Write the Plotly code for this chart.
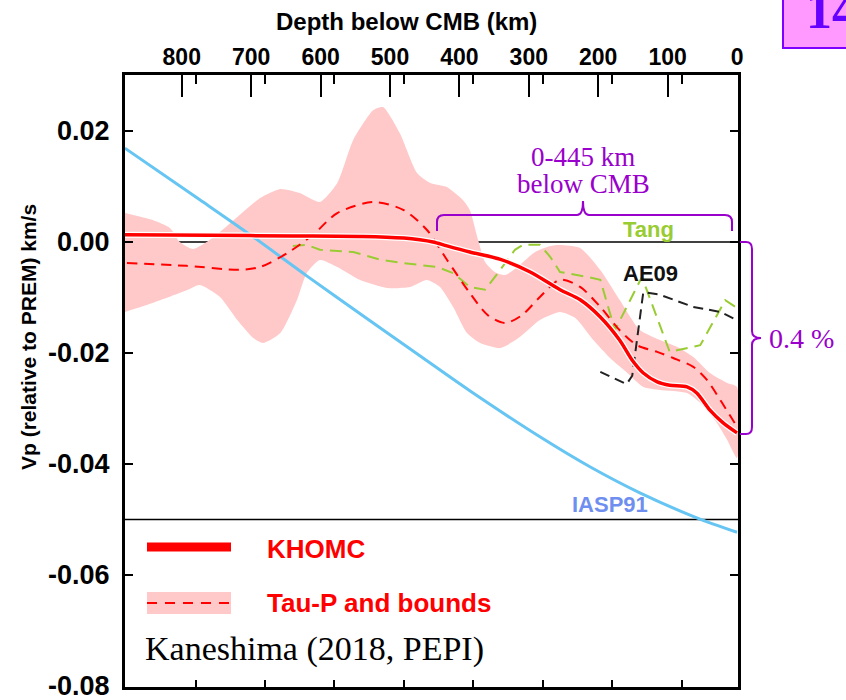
import plotly.graph_objects as go

# ---------------- data (depth below CMB in km, Vp anomaly vs PREM in km/s) ----------------
band_upper_depth = [882, 842, 817, 803, 784, 764, 745, 720, 687, 658, 630, 601, 576, 553, 524,
                    510, 486, 461, 442, 418, 395, 385, 373, 363, 349, 334, 313, 291, 269, 255,
                    226, 197, 169, 140, 111, 86, 63, 39, 14, 0]
band_upper_vp = [0.00523, 0.00396, 0.00252, 0.0, -0.00126, 0.0, 0.0018, 0.0045, 0.00793, 0.00955,
                 0.00883, 0.00721, 0.01063, 0.01838, 0.02378, 0.02432, 0.01964, 0.01243, 0.01063,
                 0.00991, 0.00757, 0.00577, 0.00036, -0.0036, -0.0054, -0.00595, -0.00414,
                 -0.0018, -0.00072, -0.00054, -0.00108, -0.00505, -0.01045, -0.01586, -0.01766,
                 -0.01892, -0.02072, -0.0236, -0.02541, -0.02613]

band_lower_depth = [882, 842, 792, 774, 745, 720, 697, 683, 658, 634, 620, 601, 576, 543, 504,
                    471, 447, 428, 409, 389, 370, 341, 313, 284, 255, 233, 207, 183, 158, 135,
                    111, 72, 53, 29, 14, 0]
band_lower_vp = [-0.01261, -0.01099, -0.00865, -0.00775, -0.00991, -0.01405, -0.0173, -0.0182,
                 -0.0164, -0.01045, -0.00559, -0.00324, -0.0045, -0.00685, -0.00829, -0.00811,
                 -0.00685, -0.00811, -0.01171, -0.0164, -0.0182, -0.0191, -0.01712, -0.01405,
                 -0.01261, -0.01369, -0.01766, -0.0209, -0.0236, -0.02613, -0.02667, -0.02721,
                 -0.029, -0.0326, -0.0357, -0.0389]

taup_depth = [879, 793, 716, 687, 648, 611, 576, 524, 481, 447, 418, 385, 359, 334, 310, 284,
              255, 226, 197, 169, 144, 115, 92, 63, 43, 24, 0]
taup_vp = [-0.0038, -0.0043, -0.0050, -0.0045, -0.0020, 0.0013, 0.0052, 0.0072, 0.0058, 0.0022,
           -0.0032, -0.0092, -0.0132, -0.0146, -0.0132, -0.0099, -0.0068, -0.0081, -0.0117,
           -0.0159, -0.0186, -0.0198, -0.0209, -0.0225, -0.0249, -0.0285, -0.0333]

khomc_depth = [882, 760, 640, 540, 480, 457, 438, 418, 385, 342, 298, 255, 226, 197, 169, 151,
               135, 115, 97, 72, 58, 39, 20, 0]
khomc_vp = [0.0013, 0.0012, 0.0011, 0.0010, 0.0007, 0.0004, 0.0000, -0.0007, -0.0018, -0.0031,
            -0.0054, -0.0086, -0.0104, -0.0135, -0.0177, -0.0213, -0.0236, -0.0252, -0.0258,
            -0.0261, -0.0272, -0.0303, -0.0326, -0.0344]

tang_depth = [640, 620, 601, 553, 514, 481, 432, 409, 385, 363, 341, 320, 308, 284, 269, 255,
              216, 197, 176, 137, 97, 53, 17, 0]
tang_vp = [-0.0007, -0.0005, -0.0014, -0.0018, -0.0032, -0.0038, -0.0045, -0.0056, -0.0081,
           -0.0086, -0.0050, -0.0014, -0.0005, -0.0005, -0.0027, -0.0054, -0.0063, -0.0068,
           -0.0159, -0.0063, -0.0198, -0.0186, -0.0105, -0.0119]

ae09_depth = [197, 159, 151, 135, 111, 63, 24, 0]
ae09_vp = [-0.0234, -0.0256, -0.0241, -0.0090, -0.0095, -0.0117, -0.0126, -0.0141]

iasp_depth = [882, 774, 697, 620, 540, 457, 385, 284, 212, 140, 58, 0]
iasp_vp = [0.0169, 0.0076, 0.0009, -0.0061, -0.0132, -0.0205, -0.0268, -0.0351, -0.0405,
           -0.0452, -0.0497, -0.0523]

depth_ticks = [800, 700, 600, 500, 400, 300, 200, 100, 0]
depth_minor = [780, 680, 580, 480, 380, 280, 180, 80]
vp_ticks = [0.02, 0.0, -0.02, -0.04, -0.06, -0.08]
vp_ticklabels = ["0.02", "0.00", "-0.02", "-0.04", "-0.06", "-0.08"]

X_RANGE = [881.8, -1.4]
Y_RANGE = [-0.08018, 0.03009]

# ---------------- page geometry helpers (pixels -> paper) ----------------
W, H = 846, 700
L, R, T, B = 125, 738, 75, 687


def px(x):
    return (x - L) / (R - L)


def py(y):
    return (B - y) / (B - T)


SANS = "Liberation Sans"
SERIF = "Liberation Serif"
PURPLE = "#9900cc"
RED = "#ff0000"
PINK = "#ffc9c9"
GREEN = "#99cc33"
BLUE = "#66c5f2"

fig = go.Figure()

# uncertainty band of the Tau-P model
fig.add_trace(go.Scatter(
    x=band_upper_depth + band_lower_depth[::-1],
    y=band_upper_vp + band_lower_vp[::-1],
    fill="toself", fillcolor=PINK, mode="lines",
    line=dict(width=0, color=PINK, shape="spline", smoothing=0.6),
    hoverinfo="skip", showlegend=False))

fig.add_trace(go.Scatter(x=iasp_depth, y=iasp_vp, mode="lines",
                         line=dict(color=BLUE, width=3, shape="spline", smoothing=0.8),
                         showlegend=False))

fig.add_trace(go.Scatter(x=tang_depth, y=tang_vp, mode="lines",
                         line=dict(color=GREEN, width=2, dash="12px,7px"),
                         showlegend=False))

fig.add_trace(go.Scatter(x=ae09_depth, y=ae09_vp, mode="lines",
                         line=dict(color="#222222", width=2, dash="10px,6px"),
                         showlegend=False))

fig.add_trace(go.Scatter(x=taup_depth, y=taup_vp, mode="lines",
                         line=dict(color=RED, width=2, dash="10px,7px", shape="spline", smoothing=0.8),
                         showlegend=False))

fig.add_trace(go.Scatter(x=khomc_depth, y=khomc_vp, mode="lines",
                         line=dict(color="white", width=6, shape="spline", smoothing=0.8),
                         hoverinfo="skip", showlegend=False))
fig.add_trace(go.Scatter(x=khomc_depth, y=khomc_vp, mode="lines",
                         line=dict(color=RED, width=3.5, shape="spline", smoothing=0.8),
                         showlegend=False))

shapes = []
# PREM reference (zero) line and the legend separator line
shapes.append(dict(type="line", xref="paper", yref="y", x0=0, x1=1, y0=0, y1=0,
                   line=dict(color="black", width=1.5), layer="below"))
shapes.append(dict(type="line", xref="paper", yref="y", x0=0, x1=1, y0=-0.05, y1=-0.05,
                   line=dict(color="black", width=1.5), layer="below"))

# legend samples
shapes.append(dict(type="line", xref="paper", yref="paper", x0=px(147), x1=px(231),
                   y0=py(547), y1=py(547), line=dict(color=RED, width=9)))
shapes.append(dict(type="rect", xref="paper", yref="paper", x0=px(147), x1=px(231),
                   y0=py(614), y1=py(592), fillcolor=PINK, line=dict(width=0)))
shapes.append(dict(type="line", xref="paper", yref="paper", x0=px(147), x1=px(231),
                   y0=py(603), y1=py(603), line=dict(color=RED, width=2, dash="10px,8px")))


def path(points):
    out = []
    for cmd, *xy in points:
        coords = " ".join(f"{px(xy[i]):.5f},{py(xy[i + 1]):.5f}" for i in range(0, len(xy), 2))
        out.append(f"{cmd} {coords}")
    return " ".join(out)


# brace over the lowermost 445 km
top_brace = path([("M", 437, 231), ("L", 437, 222), ("Q", 437, 215, 444, 215),
                  ("L", 577, 215), ("Q", 583, 215, 583, 201), ("Q", 583, 215, 589, 215),
                  ("L", 725, 215), ("Q", 732, 215, 732, 222), ("L", 732, 231)])
shapes.append(dict(type="path", xref="paper", yref="paper", path=top_brace,
                   line=dict(color=PURPLE, width=2)))

# brace on the right spanning the velocity drop
side_brace = path([("M", 740, 242), ("L", 746, 242), ("Q", 752, 242, 752, 249),
                   ("L", 752, 331), ("Q", 752, 338, 761, 338), ("Q", 752, 338, 752, 345),
                   ("L", 752, 427), ("Q", 752, 434, 746, 434), ("L", 740, 434)])
shapes.append(dict(type="path", xref="paper", yref="paper", path=side_brace,
                   line=dict(color=PURPLE, width=2)))

# slide number box
shapes.append(dict(type="rect", xref="paper", yref="paper", x0=px(783), x1=px(870),
                   y0=py(48), y1=py(-20), fillcolor="#ff99ff", line=dict(color="#7f00ff", width=2)))

ann = []


def text(x, y, s, size, color="black", family=SANS, bold=True, xanchor="center", angle=0):
    ann.append(dict(x=px(x), y=py(y), xref="paper", yref="paper", text=s, showarrow=False,
                    xanchor=xanchor, yanchor="middle", textangle=angle,
                    font=dict(family=family, size=size, color=color,
                              weight="bold" if bold else "normal")))


text(406, 21, "Depth below CMB (km)", 24)
text(28, 337, "Vp (relative to PREM) km/s", 21, angle=-90)
text(583, 157, "0-445 km", 27, PURPLE, SERIF, bold=False)
text(583, 184, "below CMB", 27, PURPLE, SERIF, bold=False)
text(767, 338, "0.4 %", 28, PURPLE, SERIF, bold=False, xanchor="left")
text(648, 229, "Tang", 22, GREEN)
text(650, 273, "AE09", 22, "#111111")
text(610, 505, "IASP91", 22, "#6f8ff0")
text(265, 549, "KHOMC", 26, RED, xanchor="left")
text(265, 603, "Tau-P and bounds", 26, RED, xanchor="left")
text(143, 649, "Kaneshima (2018, PEPI)", 34, "black", SERIF, bold=False, xanchor="left")
text(804, 11, "14", 52, "#6600ff", SERIF, xanchor="left")

tickfont = dict(family=SANS, size=23, color="black", weight="bold")

fig.update_layout(
    width=W, height=H,
    margin=dict(l=L, r=W - R, t=T, b=H - B, pad=0, autoexpand=False),
    plot_bgcolor="white", paper_bgcolor="white",
    showlegend=False,
    shapes=shapes, annotations=ann,
    xaxis=dict(range=X_RANGE, side="top", showline=True, linewidth=3, linecolor="black",
               ticks="inside", ticklen=22, tickwidth=2, tickcolor="black",
               tickmode="array", tickvals=depth_ticks, ticktext=[str(v) for v in depth_ticks],
               tickfont=tickfont, ticklabelstandoff=-2, automargin=False,
               ticklabeloverflow="allow",
               minor=dict(tickmode="array", tickvals=depth_minor, ticks="inside",
                          ticklen=9, tickwidth=2, tickcolor="black"),
               showgrid=False, zeroline=False),
    xaxis2=dict(range=X_RANGE, overlaying="x", side="bottom", anchor="y", showline=True,
                linewidth=3, linecolor="black", ticks="inside", ticklen=7, tickwidth=2,
                tickcolor="black", tickmode="array", tickvals=depth_minor, automargin=False,
                showticklabels=False, showgrid=False, zeroline=False),
    yaxis=dict(range=Y_RANGE, showline=True, linewidth=3, linecolor="black", mirror="ticks",
               ticks="inside", ticklen=8, tickwidth=2, tickcolor="black",
               tickmode="array", tickvals=vp_ticks, ticktext=vp_ticklabels,
               tickfont=dict(family=SANS, size=27, color="black", weight="bold"),
               ticklabelstandoff=7, automargin=False, ticklabeloverflow="allow",
               showgrid=False, zeroline=False),
)

# an invisible trace keeps the bottom axis active
fig.add_trace(go.Scatter(x=[0], y=[0], xaxis="x2", mode="markers",
                         marker=dict(opacity=0), hoverinfo="skip", showlegend=False))

fig.write_html("out.html")
